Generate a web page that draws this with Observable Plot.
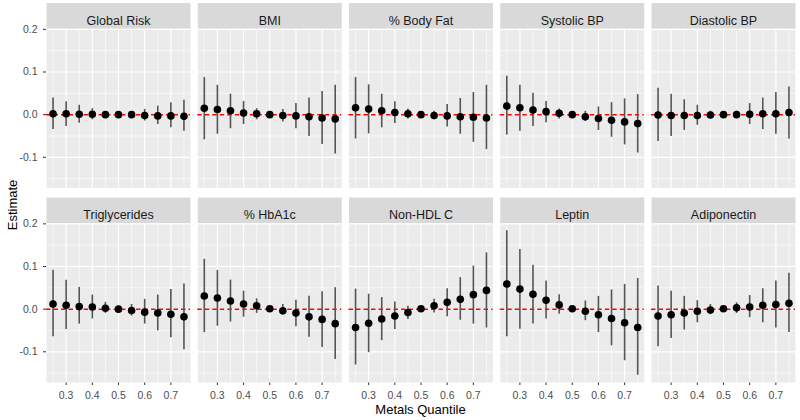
<!DOCTYPE html>
<html><head><meta charset="utf-8">
<script src="https://cdn.jsdelivr.net/npm/d3@7"></script>
<script src="https://cdn.jsdelivr.net/npm/@observablehq/plot@0.6"></script>
<style>
body{margin:0;background:#fff;}
#wrap{position:relative;width:800px;height:420px;font-family:"Liberation Sans",Arial,sans-serif;}
.ttl{position:absolute;font-size:13px;color:#000;white-space:nowrap;line-height:16px;}
#wrap svg [aria-label="x-axis tick label"], #wrap svg [aria-label="y-axis tick label"]{fill:#4d4d4d;}
</style></head><body>
<div id="wrap"></div>
<script>
const panelNames = ["Global Risk","BMI","% Body Fat","Systolic BP","Diastolic BP","Triglycerides","% HbA1c","Non-HDL C","Leptin","Adiponectin"];
const quantiles = [0.25,0.30,0.35,0.40,0.45,0.50,0.55,0.60,0.65,0.70,0.75];
const xTicks = [0.3,0.4,0.5,0.6,0.7];
const xMinor = [0.25,0.35,0.45,0.55,0.65,0.75];
const yTicks = [-0.1,0,0.1,0.2];
const yMinor = [-0.15,-0.05,0.05,0.15];

const globalRiskEst = [0.002,0.002,0.001,0.001,0.000,0.000,0.000,-0.002,-0.003,-0.003,-0.004];
const globalRiskLo  = [-0.035,-0.028,-0.020,-0.012,-0.006,-0.002,-0.007,-0.015,-0.023,-0.031,-0.039];
const globalRiskHi  = [0.039,0.030,0.022,0.014,0.006,0.002,0.004,0.012,0.020,0.028,0.034];

const bmiEst = [0.015,0.012,0.009,0.004,0.002,0.000,-0.002,-0.003,-0.005,-0.008,-0.010];
const bmiLo  = [-0.059,-0.046,-0.033,-0.023,-0.012,-0.004,-0.017,-0.033,-0.051,-0.070,-0.092];
const bmiHi  = [0.087,0.069,0.048,0.031,0.014,0.004,0.012,0.026,0.039,0.054,0.069];

const bodyFatEst = [0.016,0.013,0.009,0.005,0.002,0.000,-0.002,-0.003,-0.005,-0.006,-0.008];
const bodyFatLo  = [-0.057,-0.045,-0.031,-0.021,-0.010,-0.003,-0.012,-0.029,-0.046,-0.065,-0.082];
const bodyFatHi  = [0.087,0.070,0.048,0.030,0.013,0.003,0.008,0.024,0.038,0.052,0.069];

const systolicEst = [0.020,0.016,0.011,0.007,0.003,0.000,-0.005,-0.009,-0.013,-0.017,-0.021];
const systolicLo  = [-0.048,-0.039,-0.028,-0.019,-0.010,-0.003,-0.016,-0.037,-0.053,-0.071,-0.090];
const systolicHi  = [0.090,0.069,0.050,0.031,0.013,0.003,0.008,0.018,0.028,0.037,0.047];

const diastolicEst = [-0.001,-0.002,-0.002,-0.002,-0.001,0.000,0.000,0.001,0.002,0.002,0.005];
const diastolicLo  = [-0.063,-0.051,-0.037,-0.025,-0.010,-0.002,-0.009,-0.023,-0.035,-0.046,-0.057];
const diastolicHi  = [0.062,0.048,0.035,0.022,0.008,0.002,0.008,0.026,0.039,0.052,0.065];

const triglyceridesEst = [0.012,0.009,0.006,0.005,0.002,0.000,-0.003,-0.007,-0.009,-0.012,-0.018];
const triglyceridesLo  = [-0.065,-0.048,-0.035,-0.023,-0.010,-0.003,-0.016,-0.035,-0.051,-0.067,-0.095];
const triglyceridesHi  = [0.091,0.068,0.051,0.033,0.016,0.003,0.011,0.023,0.033,0.046,0.059];

const hba1cEst = [0.031,0.026,0.019,0.012,0.008,0.001,-0.004,-0.009,-0.018,-0.024,-0.034];
const hba1cLo  = [-0.055,-0.040,-0.030,-0.019,-0.010,-0.003,-0.012,-0.041,-0.066,-0.090,-0.118];
const hba1cHi  = [0.117,0.091,0.068,0.042,0.024,0.004,0.011,0.021,0.030,0.041,0.050];

const nonHdlEst = [-0.043,-0.033,-0.023,-0.016,-0.008,0.001,0.008,0.016,0.023,0.034,0.044];
const nonHdlLo  = [-0.131,-0.102,-0.074,-0.048,-0.024,-0.003,-0.009,-0.018,-0.026,-0.035,-0.044];
const nonHdlHi  = [0.047,0.035,0.027,0.017,0.007,0.004,0.023,0.048,0.074,0.101,0.132];

const leptinEst = [0.059,0.047,0.035,0.021,0.010,0.001,-0.005,-0.013,-0.022,-0.032,-0.043];
const leptinLo  = [-0.065,-0.047,-0.035,-0.023,-0.012,-0.003,-0.027,-0.055,-0.086,-0.121,-0.155];
const leptinHi  = [0.184,0.140,0.103,0.066,0.034,0.004,0.019,0.030,0.045,0.058,0.072];

const adiponectinEst = [-0.016,-0.013,-0.009,-0.005,-0.002,0.001,0.003,0.005,0.009,0.011,0.014];
const adiponectinLo  = [-0.088,-0.069,-0.049,-0.032,-0.013,-0.003,-0.010,-0.020,-0.032,-0.044,-0.055];
const adiponectinHi  = [0.054,0.042,0.030,0.020,0.011,0.004,0.015,0.032,0.048,0.066,0.084];

const series = [
  [globalRiskEst, globalRiskLo, globalRiskHi],
  [bmiEst, bmiLo, bmiHi],
  [bodyFatEst, bodyFatLo, bodyFatHi],
  [systolicEst, systolicLo, systolicHi],
  [diastolicEst, diastolicLo, diastolicHi],
  [triglyceridesEst, triglyceridesLo, triglyceridesHi],
  [hba1cEst, hba1cLo, hba1cHi],
  [nonHdlEst, nonHdlLo, nonHdlHi],
  [leptinEst, leptinLo, leptinHi],
  [adiponectinEst, adiponectinLo, adiponectinHi]
];

const panels = panelNames.map((name, i) => ({name, col: i % 5, row: Math.floor(i / 5)}));
const rows = [];
panels.forEach((p, i) => {
  const [est, lo, hi] = series[i];
  quantiles.forEach((q, j) => rows.push({col: p.col, row: p.row, q, est: est[j], lo: lo[j], hi: hi[j]}));
});

// layout
const W = 800, H = 420;
const fxRange = [46, 795], fyRange = [28, 382];
const fxPad = 0.048, fyPad = 0.18;
const panelH = (fyRange[1] - fyRange[0]) / (2 - fyPad) * (1 - fyPad);
const stripH = 25.5;
const fmt = d => d.toFixed(1);

const plot = Plot.plot({
  width: W, height: H,
  marginLeft: 46, marginRight: 5, marginTop: 28, marginBottom: 38,
  style: {fontFamily: "Liberation Sans, Arial, sans-serif", fontSize: "10.5px", color: "#333", background: "white"},
  fx: {domain: [0,1,2,3,4], range: fxRange, paddingInner: fxPad, paddingOuter: 0, round: false, axis: null},
  fy: {domain: [0,1], range: fyRange, paddingInner: fyPad, paddingOuter: 0, round: false, axis: null},
  x: {domain: [0.225, 0.775], ticks: xTicks, tickFormat: fmt, tickSize: 3, label: null},
  y: {domain: [-0.172, 0.202], ticks: yTicks, tickFormat: fmt, tickSize: 3, label: null},
  marks: [
    Plot.frame({fill: "#ebebeb"}),
    Plot.ruleX(xMinor, {stroke: "white", strokeWidth: 0.6}),
    Plot.ruleY(yMinor, {stroke: "white", strokeWidth: 0.6}),
    Plot.ruleX(xTicks, {stroke: "white", strokeWidth: 1.2}),
    Plot.ruleY(yTicks, {stroke: "white", strokeWidth: 1.2}),
    Plot.ruleY([0], {stroke: "#ff0000", strokeWidth: 1.5, strokeDasharray: "4.5,3"}),
    Plot.ruleX(rows, {fx: "col", fy: "row", x: "q", y1: "lo", y2: "hi", stroke: "#555", strokeWidth: 1.6}),
    Plot.dot(rows, {fx: "col", fy: "row", x: "q", y: "est", r: 3.8, fill: "black", stroke: "none"}),
    Plot.frame({fill: "#d9d9d9", insetTop: -stripH, insetBottom: panelH}),
    Plot.text(panels, {fx: "col", fy: "row", text: "name", frameAnchor: "top", dy: -stripH / 2, fontSize: 12.5, fill: "#1a1a1a"})
  ]
});

const wrap = document.getElementById("wrap");
wrap.appendChild(plot);
const xt = document.createElement("div");
xt.className = "ttl"; xt.textContent = "Metals Quantile";
xt.style.left = "46px"; xt.style.width = "749px"; xt.style.textAlign = "center"; xt.style.top = "402px";
wrap.appendChild(xt);
const yt = document.createElement("div");
yt.className = "ttl"; yt.textContent = "Estimate";
yt.style.left = "13px"; yt.style.top = "205px"; yt.style.transform = "translate(-50%,-50%) rotate(-90deg)";
wrap.appendChild(yt);
</script>
</body></html>
